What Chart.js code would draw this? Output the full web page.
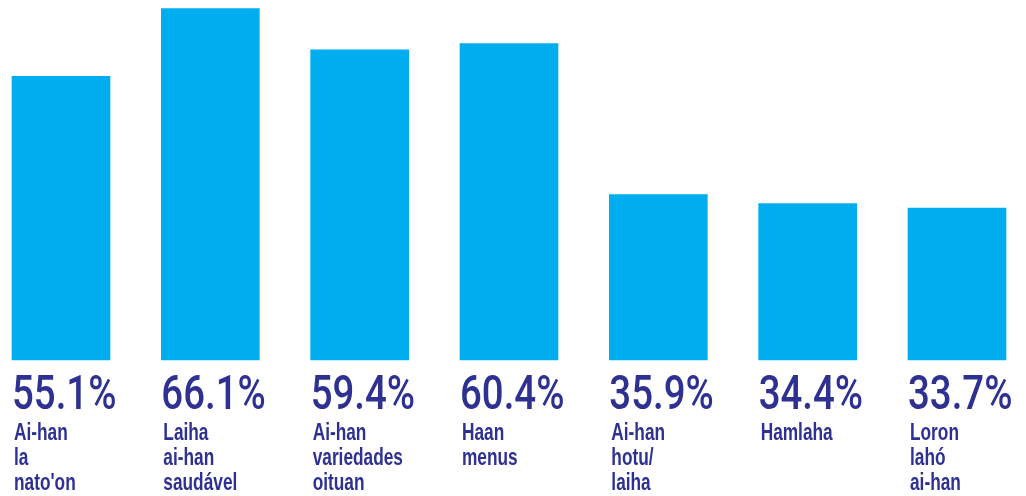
<!DOCTYPE html>
<html>
<head>
<meta charset="utf-8">
<script src="https://cdn.jsdelivr.net/npm/chart.js@4/dist/chart.umd.min.js"></script>
<style>
  html, body { margin: 0; padding: 0; background: #ffffff; }
  #wrap { width: 1026px; height: 496px; position: relative; }
</style>
</head>
<body>
<div id="wrap"><canvas id="c"></canvas></div>
<script>
const categories = [
  ["Ai-han", "la", "nato'on"],
  ["Laiha", "ai-han", "saudável"],
  ["Ai-han", "variedades", "oituan"],
  ["Haan", "menus"],
  ["Ai-han", "hotu/", "laiha"],
  ["Hamlaha"],
  ["Loron", "lahó", "ai-han"]
];
const values = [55.1, 66.1, 59.4, 60.4, 35.9, 34.4, 33.7];
const valueLabels = ["55.1%", "66.1%", "59.4%", "60.4%", "35.9%", "34.4%", "33.7%"];

const barColor = '#00AEEF';
const textColor = '#2E3192';
const valueFont = "500 48px Roboto, 'Liberation Sans', sans-serif";
const catFont = "bold 24px 'Liberation Sans', Arial, sans-serif";
const yMin = 9;
const yMax = 67.5;

// Draws the x-axis tick labels (value + category) in a condensed style,
// positioned from the category scale's own tick pixels.
const condensedLabels = {
  id: 'condensedLabels',
  afterDraw(chart) {
    const scale = chart.scales.x;
    const ctx = chart.ctx;
    const half = 49;
    ctx.save();
    ctx.fillStyle = textColor;
    ctx.textAlign = 'left';
    ctx.textBaseline = 'alphabetic';
    for (let i = 0; i < valueLabels.length; i++) {
      const left = scale.getPixelForTick(i) - half;
      ctx.save();
      ctx.font = valueFont;
      ctx.translate(left, scale.top + 48.5);
      ctx.scale(0.8, 1);
      ctx.fillText(valueLabels[i], 0, 0);
      ctx.restore();
      const lines = categories[i];
      for (let j = 0; j < lines.length; j++) {
        ctx.save();
        ctx.font = catFont;
        ctx.translate(left + 2, scale.top + 80 + j * 25);
        ctx.scale(0.72, 1);
        ctx.fillText(lines[j], 0, 0);
        ctx.restore();
      }
    }
    ctx.restore();
  }
};

new Chart(document.getElementById('c'), {
  type: 'bar',
  data: {
    labels: categories,
    datasets: [{
      data: values,
      backgroundColor: barColor,
      borderWidth: 0,
      barThickness: 98,
      base: yMin,
      clip: false
    }]
  },
  options: {
    responsive: true,
    maintainAspectRatio: false,
    animation: false,
    layout: { padding: { left: 61, right: 69, top: 0, bottom: 0 } },
    plugins: { legend: { display: false }, tooltip: { enabled: false } },
    scales: {
      y: {
        display: false,
        min: yMin,
        max: yMax
      },
      x: {
        type: 'category',
        position: 'bottom',
        offset: false,
        grid: { display: false },
        border: { display: false },
        ticks: { display: false },
        afterFit: function (scale) {
          scale.paddingLeft = 0;
          scale.paddingRight = 0;
          scale.height = 136;
        }
      }
    }
  },
  plugins: [condensedLabels]
});
</script>
</body>
</html>
